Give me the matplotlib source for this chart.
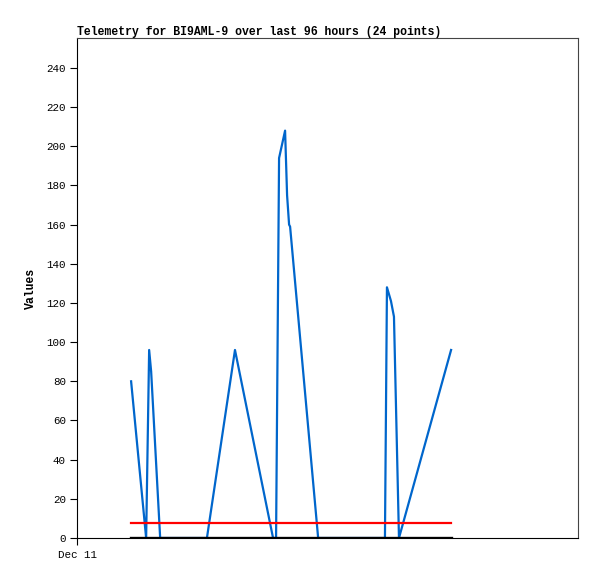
import matplotlib
matplotlib.use("Agg")
import matplotlib.pyplot as plt

# hours since Dec 11 00:00 and telemetry values
hours = [16.2, 20.7, 21.6, 22.2, 24.9, 38.9, 47.3, 58.7, 59.6, 60.5, 61.4,
         62.3, 62.9, 63.5, 63.8, 72.2, 92.2, 92.8, 94.0, 94.9, 96.4, 112.0]
values = [80, 0, 96, 85, 0, 0, 96, 0, 0, 194, 201,
          208, 175, 160, 159, 0, 0, 128, 121, 113, 0, 96]
threshold = 7.7
start_h, end_h = 16.2, 112.0
tick_hours = [0]
tick_labels = ["Dec 11"]

fig = plt.figure(figsize=(5.97, 5.79), dpi=100)
ax = fig.add_axes([77/597, 41/579, 501/597, 500/579])

ax.plot(hours, values, color="#0066cc", lw=1.6)
ax.plot([start_h, end_h], [threshold, threshold], color="#ff0000", lw=1.6)
ax.plot([start_h, end_h], [0, 0], color="black", lw=2.4)

ax.set_xlim(0, 150)
ax.set_ylim(0, 255.3)
ax.set_yticks(range(0, 241, 20))
ax.set_xticks(tick_hours)
ax.set_xticklabels(tick_labels)

mono = "Liberation Mono"
for lab in ax.get_xticklabels() + ax.get_yticklabels():
    lab.set_family(mono)
    lab.set_fontsize(7.8)
ax.tick_params(direction="out", length=5, width=0.8, pad=3)
ax.tick_params(axis="x", pad=4)

ax.set_title("Telemetry for BI9AML-9 over last 96 hours (24 points)",
             family=mono, fontweight="bold", fontsize=8.3, loc="left", pad=2)
ax.set_ylabel("Values", family=mono, fontweight="bold", fontsize=8.3, labelpad=7)

for s in ax.spines.values():
    s.set_linewidth(0.8)
ax.spines["top"].set_color("#444444")
ax.spines["right"].set_color("#444444")

fig.savefig("out.png", dpi=100)
